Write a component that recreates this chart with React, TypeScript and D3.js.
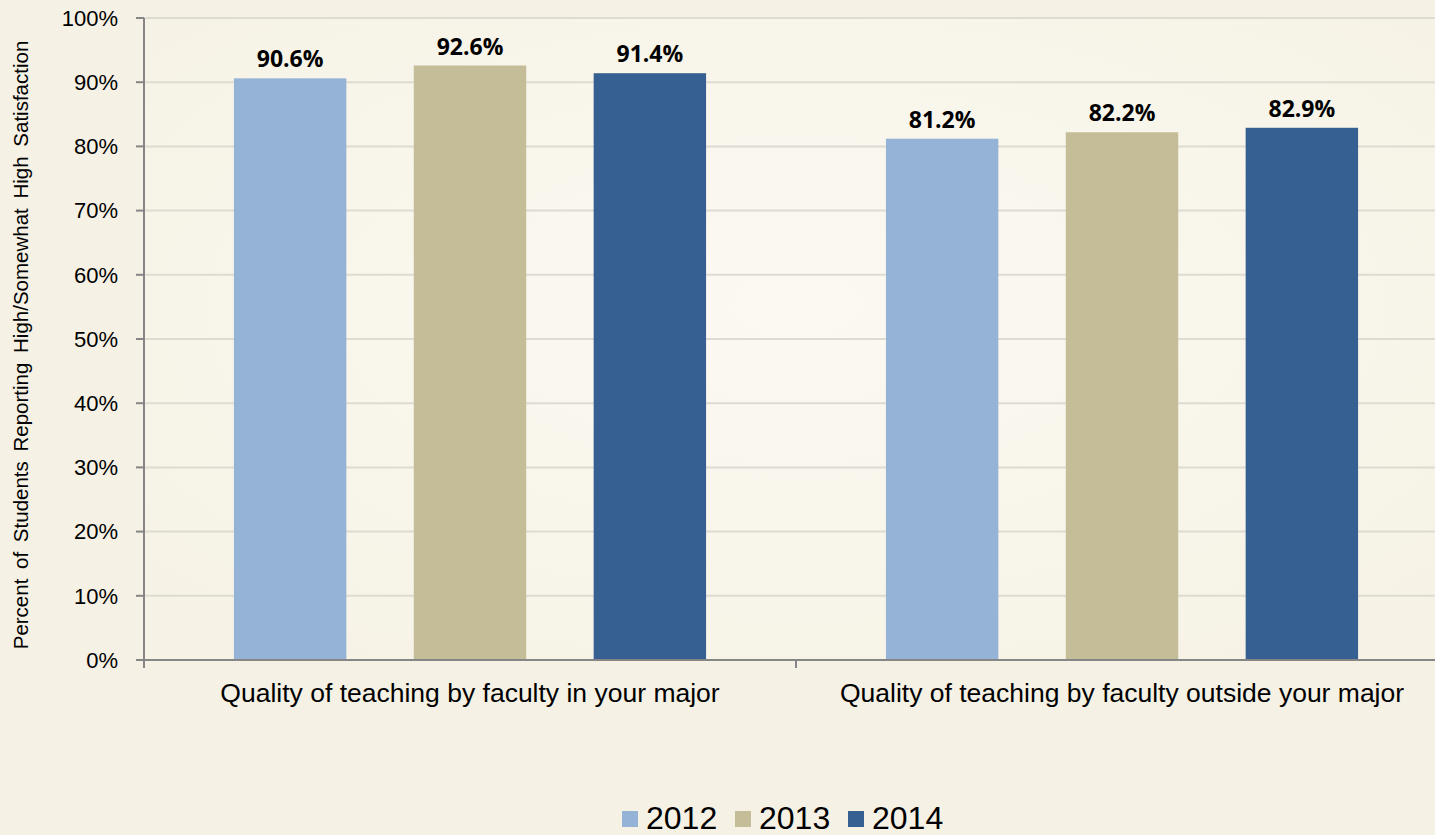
import * as React from "react";
import * as d3 from "d3";

// chart values
const categories = [
  "Quality of teaching by faculty in your major",
  "Quality of teaching by faculty outside your major",
];
const years = ["2012", "2013", "2014"];
const values2012 = [90.6, 81.2];
const values2013 = [92.6, 82.2];
const values2014 = [91.4, 82.9];
const yTicks = [0, 10, 20, 30, 40, 50, 60, 70, 80, 90, 100];

const COLORS = ["#95b3d7", "#c4bd97", "#366092"];
const WIDTH = 1435;
const HEIGHT = 835;
const PLOT = { left: 144, top: 18, right: 1448, bottom: 660 };

export default function App() {
  const series = [values2012, values2013, values2014];

  const x0 = d3.scaleBand().domain(categories).range([PLOT.left, PLOT.right]);
  const x1 = d3
    .scaleBand()
    .domain(years)
    .range([0, x0.bandwidth()])
    .paddingInner(0.375)
    .paddingOuter(0.5);
  const y = d3.scaleLinear().domain([0, 100]).range([PLOT.bottom, PLOT.top]);

  // category boundaries for the x axis tick marks
  const boundaries = categories.map((c) => x0(c) as number).concat([PLOT.right]);

  const color = d3.scaleOrdinal<string, string>().domain(years).range(COLORS);

  return (
    <svg
      width={WIDTH}
      height={HEIGHT}
      style={{ position: "fixed", left: 0, top: 0, display: "block" }}
      fontFamily="'Liberation Sans', Arial, sans-serif"
    >
      <defs>
        <radialGradient id="plotBg" cx="0.5" cy="0.45" r="0.7">
          <stop offset="0" stopColor="#fbf9f2" />
          <stop offset="1" stopColor="#f6f2e5" />
        </radialGradient>
      </defs>
      <rect width={WIDTH} height={HEIGHT} fill="#f5f1e4" />
      <rect
        x={PLOT.left}
        y={PLOT.top}
        width={PLOT.right - PLOT.left}
        height={PLOT.bottom - PLOT.top}
        fill="url(#plotBg)"
      />

      {/* gridlines */}
      <g>
        {yTicks.slice(1).map((t) => (
          <line
            key={t}
            x1={PLOT.left}
            x2={PLOT.right}
            y1={y(t)}
            y2={y(t)}
            stroke="#dedbd2"
            strokeWidth={2}
          />
        ))}
      </g>

      {/* bars */}
      <g>
        {categories.map((c, ci) => (
          <g key={c} transform={`translate(${x0(c)},0)`}>
            {years.map((yr, si) => {
              const v = series[si][ci];
              const bx = x1(yr) as number;
              return (
                <g key={yr}>
                  <rect
                    x={bx}
                    y={y(v)}
                    width={x1.bandwidth()}
                    height={PLOT.bottom - y(v)}
                    fill={color(yr)}
                  />
                  <text
                    x={bx + x1.bandwidth() / 2}
                    y={y(v) - 11}
                    textAnchor="middle"
                    fontFamily="'Open Sans', sans-serif"
                    fontWeight="bold"
                    fontSize={23}
                    fill="#000"
                  >
                    {v.toFixed(1)}%
                  </text>
                </g>
              );
            })}
          </g>
        ))}
      </g>

      {/* y axis */}
      <g>
        <line x1={PLOT.left} x2={PLOT.left} y1={PLOT.top} y2={PLOT.bottom} stroke="#868686" strokeWidth={2} />
        {yTicks.map((t) => (
          <g key={t}>
            <line x1={PLOT.left - 8} x2={PLOT.left} y1={y(t)} y2={y(t)} stroke="#868686" strokeWidth={2} />
            <text x={118} y={y(t)} dy="0.35em" textAnchor="end" fontSize={22} fill="#000">
              {t}%
            </text>
          </g>
        ))}
      </g>

      {/* x axis */}
      <g>
        <line x1={PLOT.left} x2={PLOT.right} y1={PLOT.bottom} y2={PLOT.bottom} stroke="#868686" strokeWidth={2} />
        {boundaries.map((bx, i) => (
          <line key={i} x1={bx} x2={bx} y1={PLOT.bottom} y2={PLOT.bottom + 8} stroke="#868686" strokeWidth={2} />
        ))}
        {categories.map((c) => (
          <text
            key={c}
            x={(x0(c) as number) + x0.bandwidth() / 2}
            y={702}
            textAnchor="middle"
            fontSize={26.5}
            fill="#000"
          >
            {c}
          </text>
        ))}
      </g>

      {/* y axis title */}
      <text
        transform="translate(28,345) rotate(-90)"
        textAnchor="middle"
        fontSize={20.5}
        wordSpacing={4}
        fill="#000"
      >
        Percent of Students Reporting High/Somewhat High Satisfaction
      </text>

      {/* legend */}
      <g>
        {years.map((yr, i) => {
          const lx = 622 + i * 113;
          return (
            <g key={yr}>
              <rect x={lx} y={811} width={16} height={16} fill={color(yr)} />
              <text x={lx + 24} y={829} fontSize={32} fill="#000">
                {yr}
              </text>
            </g>
          );
        })}
      </g>
    </svg>
  );
}
